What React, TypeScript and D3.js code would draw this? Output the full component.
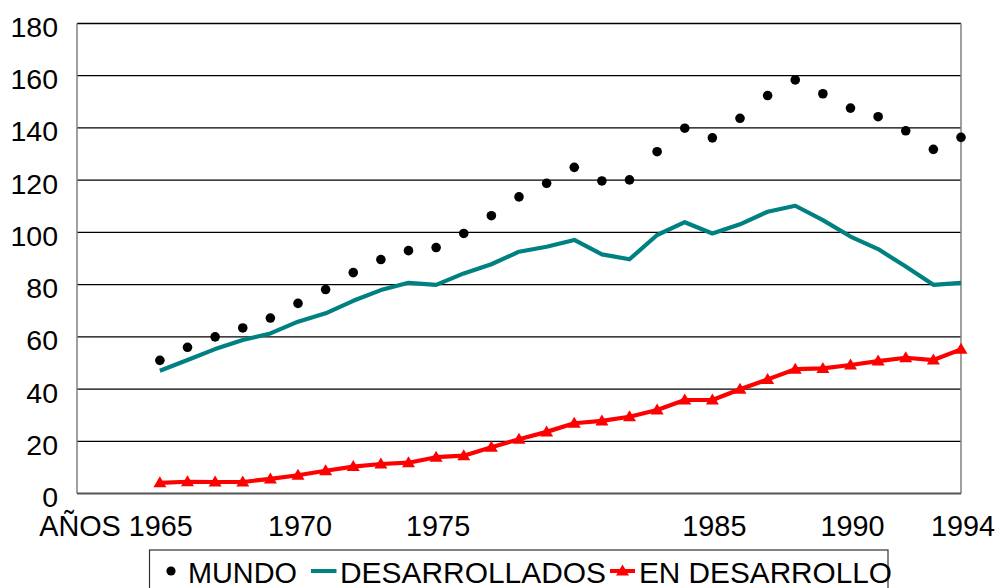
import React from "react";
import * as d3 from "d3";

const years: number[] = [
  1965, 1966, 1967, 1968, 1969, 1970, 1971, 1972, 1973, 1974,
  1975, 1976, 1977, 1978, 1979, 1980, 1981, 1982, 1983, 1984,
  1985, 1986, 1987, 1988, 1989, 1990, 1991, 1992, 1993, 1994,
];

const mundo: number[] = [
  51, 56, 60, 63.4, 67.2, 72.8, 78.1, 84.6, 89.6, 93.0,
  94.2, 99.6, 106.4, 113.6, 118.8, 124.9, 119.7, 120.1, 130.9, 139.9,
  136.2, 143.7, 152.4, 158.4, 153.1, 147.6, 144.3, 138.9, 131.8, 136.4,
];

const desarrollados: number[] = [
  47.0, 51.1, 55.3, 58.8, 61.3, 65.8, 69.0, 73.8, 77.9, 80.7,
  79.9, 84.3, 87.8, 92.6, 94.5, 97.1, 91.6, 89.7, 99.0, 103.9,
  99.6, 103.1, 107.9, 110.2, 104.7, 98.4, 93.6, 86.9, 79.9, 80.7,
];

const enDesarrollo: number[] = [
  4.1, 4.5, 4.4, 4.4, 5.6, 7.0, 8.7, 10.3, 11.3, 11.8,
  13.9, 14.5, 17.7, 20.8, 23.6, 26.9, 27.8, 29.4, 32.0, 35.8,
  35.8, 39.9, 43.7, 47.6, 47.9, 49.2, 50.7, 52.0, 51.1, 55.2,
];

const yTicks: number[] = [0, 20, 40, 60, 80, 100, 120, 140, 160, 180];
const xTickYears: number[] = [1965, 1970, 1975, 1985, 1990, 1994];
const xTickLabels: string[] = ["AÑOS 1965", "1970", "1975", "1985", "1990", "1994"];
const seriesNames: string[] = ["MUNDO", "DESARROLLADOS", "EN DESARROLLO"];

const FONT = "'Liberation Sans', Arial, Helvetica, sans-serif";
const TEAL = "#008080";
const RED = "#ff0000";

const left = 77;
const right = 961;
const top = 23.5;
const bottom = 493.5;

function triPath(cx: number, cy: number, s = 1): string {
  const w = 6.5 * s;
  const up = 6.5 * s;
  const down = 4.5 * s;
  return `M${cx},${cy - up}L${cx + w},${cy + down}L${cx - w},${cy + down}Z`;
}

export default function App() {
  const x = d3.scaleLinear().domain([1962, 1994]).range([left, right]);
  const y = d3.scaleLinear().domain([0, 180]).range([bottom, top]);

  const lineGen = d3
    .line<number>()
    .x((_, i) => x(years[i]))
    .y((d) => y(d));

  return (
    <svg
      width={1000}
      height={588}
      style={{ position: "absolute", left: 0, top: 0, background: "#fff" }}
      fontFamily={FONT}
    >
      <rect x={0} y={0} width={1000} height={588} fill="#fff" />
      {/* gridlines */}
      {yTicks.filter((t) => t > 0).map((t) => (
        <line key={t} x1={left} x2={right} y1={y(t)} y2={y(t)} stroke="#000" strokeWidth={1.3} />
      ))}
      {/* axes / frame */}
      <line x1={left} x2={left} y1={top} y2={bottom} stroke="#808080" strokeWidth={1.5} />
      <line x1={right} x2={right} y1={top} y2={bottom} stroke="#808080" strokeWidth={1.5} />
      <line x1={left} x2={right} y1={bottom} y2={bottom} stroke="#555" strokeWidth={2} />

      {/* y labels */}
      {yTicks.map((t) => (
        <text key={t} x={58} y={y(t) + 13.5} textAnchor="end" fontSize={28.5} fill="#000">
          {t}
        </text>
      ))}

      {/* x labels */}
      {xTickYears.map((yr, i) => (
        <text
          key={yr}
          x={i === 0 ? x(yr) + 33 : x(yr) + 2}
          y={536}
          textAnchor={i === 0 ? "end" : "middle"}
          fontSize={28.8}
          fill="#000"
        >
          {xTickLabels[i]}
        </text>
      ))}

      {/* DESARROLLADOS */}
      <path d={lineGen(desarrollados) || ""} fill="none" stroke={TEAL} strokeWidth={4.2} strokeLinejoin="round" />

      {/* EN DESARROLLO */}
      <path d={lineGen(enDesarrollo) || ""} fill="none" stroke={RED} strokeWidth={4.2} strokeLinejoin="round" />
      {enDesarrollo.map((v, i) => (
        <path key={i} d={triPath(x(years[i]), y(v))} fill={RED} />
      ))}

      {/* MUNDO dots */}
      {mundo.map((v, i) => (
        <circle key={i} cx={x(years[i])} cy={y(v)} r={4.8} fill="#000" />
      ))}

      {/* legend */}
      <rect x={149.5} y={550} width={738.5} height={50} fill="#fff" stroke="#333" strokeWidth={1.2} />
      <circle cx={171} cy={571} r={4.6} fill="#000" />
      <text x={188} y={583} fontSize={29} fill="#000" textLength={109} lengthAdjust="spacingAndGlyphs">{seriesNames[0]}</text>
      <line x1={311} x2={336.5} y1={571} y2={571} stroke={TEAL} strokeWidth={4} />
      <text x={340} y={583} fontSize={29} fill="#000" textLength={266} lengthAdjust="spacingAndGlyphs">{seriesNames[1]}</text>
      <line x1={610} x2={635} y1={571} y2={571} stroke={RED} strokeWidth={4} />
      <path d={triPath(622.5, 571)} fill={RED} />
      <text x={639} y={583} fontSize={29} fill="#000" textLength={253} lengthAdjust="spacingAndGlyphs">{seriesNames[2]}</text>
    </svg>
  );
}
